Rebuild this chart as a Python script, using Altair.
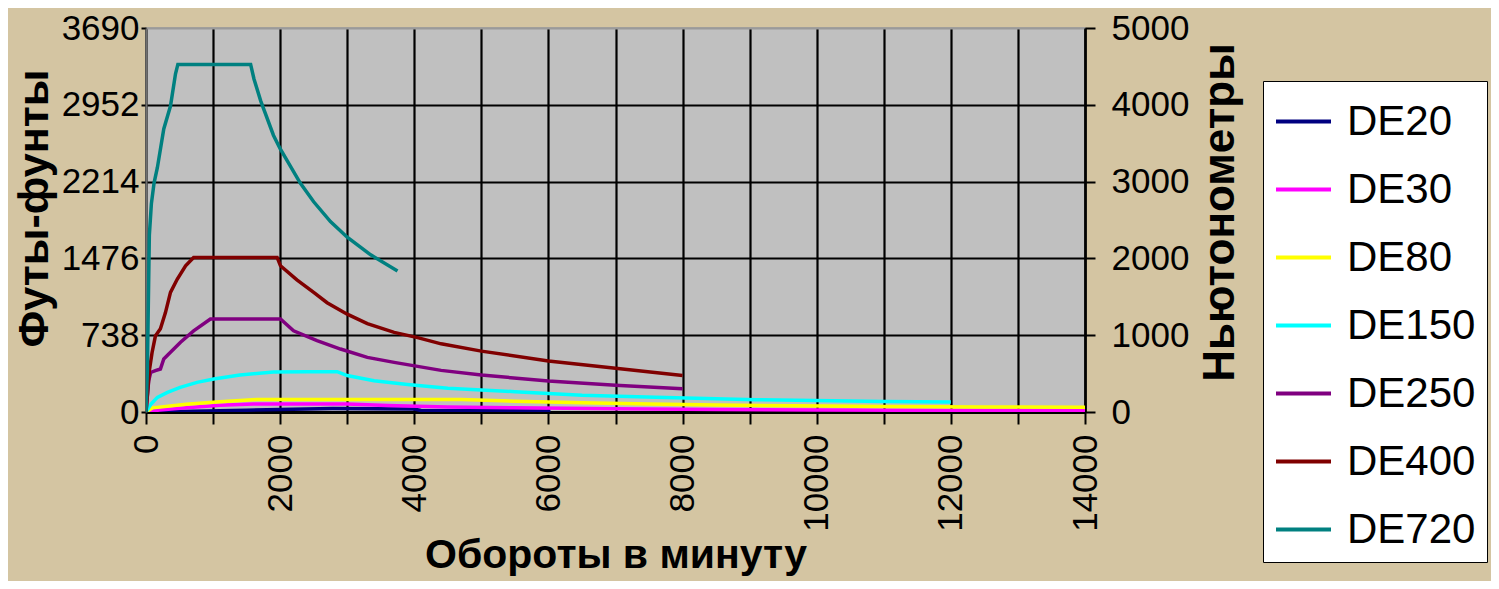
import altair as alt
import pandas as pd

series = ["DE20", "DE30", "DE80", "DE150", "DE250", "DE400", "DE720"]
colors = ["#000080", "#FF00FF", "#FFFF00", "#00FFFF", "#800080", "#800000", "#008080"]

de20_rpm = [0, 700, 1500, 2780, 3990, 4100, 6030]
de20_tq = [0, 8, 18, 33, 30, 14, 10]

de30_rpm = [0, 200, 600, 1100, 1600, 3000, 3600, 4500, 5500, 7000, 8500, 10000, 12000, 14000]
de30_tq = [0, 19, 41, 64, 77, 77, 62, 48, 40, 31, 25, 20, 15, 12]

de80_rpm = [0, 100, 600, 1100, 1650, 4700, 5500, 6500, 7500, 8500, 9650, 11000, 12500, 14000]
de80_tq = [0, 40, 74, 99, 120, 120, 104, 89, 77, 68, 60, 53, 48, 45]

de150_rpm = [0, 80, 170, 320, 510, 760, 1010, 1400, 1900, 2400, 2850, 3000, 3400, 3900,
             4500, 5500, 6500, 7600, 9100, 11000, 12000]
de150_tq = [0, 80, 141, 189, 237, 285, 317, 355, 385, 387, 387, 350, 300, 265,
            228, 195, 160, 141, 118, 101, 95]

de250_rpm = [0, 40, 70, 140, 215, 265, 365, 515, 710, 960, 2005, 2200, 2550, 2900,
             3300, 3700, 4400, 5000, 6000, 7000, 8000]
de250_tq = [0, 300, 380, 397, 413, 510, 573, 670, 780, 893, 893, 780, 685, 605,
            525, 477, 400, 355, 298, 258, 224]

de400_rpm = [0, 50, 90, 140, 215, 290, 365, 465, 590, 710, 1955, 2005, 2250, 2500,
             2700, 3000, 3300, 3700, 4050, 4400, 5000, 6000, 7000, 8000]
de400_tq = [0, 400, 570, 730, 800, 955, 1150, 1275, 1405, 1485, 1485, 1405, 1270, 1150,
            1050, 940, 850, 765, 715, 655, 585, 490, 420, 350]

de720_rpm = [0, 20, 50, 80, 120, 170, 265, 365, 440, 475, 1560, 1610, 1710, 1900,
             2000, 2300, 2500, 2750, 3000, 3350, 3750]
de720_tq = [0, 400, 1700, 2000, 2200, 2350, 2720, 2940, 3250, 3340, 3340, 3200, 2990, 2660,
            2530, 2200, 2020, 1830, 1680, 1510, 1355]

left_ticks = [0, 738, 1476, 2214, 2952, 3690]
right_ticks = [0, 1000, 2000, 3000, 4000, 5000]
x_ticks = list(range(0, 14001, 1000))

all_series = [
    ("DE20", de20_rpm, de20_tq),
    ("DE30", de30_rpm, de30_tq),
    ("DE80", de80_rpm, de80_tq),
    ("DE150", de150_rpm, de150_tq),
    ("DE250", de250_rpm, de250_tq),
    ("DE400", de400_rpm, de400_tq),
    ("DE720", de720_rpm, de720_tq),
]
rows = []
for name, xs, ys in all_series:
    for i, (a, b) in enumerate(zip(xs, ys)):
        rows.append({"series": name, "rpm": a, "ftlb": b, "idx": i})
df = pd.DataFrame(rows)

FONT = "Liberation Sans"

lines = alt.Chart(df).mark_line(strokeWidth=3.5, clip=True).encode(
    x=alt.X("rpm:Q", scale=alt.Scale(domain=[0, 14000], nice=False, zero=False),
            title="Обороты в минуту",
            axis=alt.Axis(values=x_ticks, format="d",
                          labelExpr="datum.value % 2000 == 0 ? datum.label : ''",
                          labelAngle=270, labelFontSize=35, labelFont=FONT, labelColor="black",
                          labelPadding=10, tickSize=12, tickWidth=2, tickColor="black",
                          domainColor="black", domainWidth=3,
                          grid=True, gridColor="black", gridWidth=2.2,
                          titleFontSize=41, titleFontWeight="bold", titleFont=FONT,
                          titleColor="black", titlePadding=4, labelFlush=False,
                          labelOverlap=False)),
    y=alt.Y("ftlb:Q", scale=alt.Scale(domain=[0, 3690], nice=False),
            title="Футы-фунты",
            axis=alt.Axis(values=left_ticks, format="d", orient="left",
                          labelFontSize=35, labelFont=FONT, labelColor="black",
                          labelPadding=2, tickSize=5, tickWidth=2, tickColor="black",
                          domainColor="#707070", domainWidth=2,
                          grid=True,
                          gridColor={"condition": {"test": "datum.value >= 3690", "value": "#9a9a9a"},
                                     "value": "black"},
                          gridWidth=2.2, labelFlush=False, labelOverlap=False,
                          titleFontSize=43, titleFontWeight="bold", titleFont=FONT,
                          titleColor="black", titleAngle=270, titleBaseline="middle",
                          titleX=-112, titleY=180)),
    color=alt.Color("series:N", scale=alt.Scale(domain=series, range=colors),
                    legend=alt.Legend(title=None, orient="none", legendX=1117, legendY=53,
                                      symbolType="stroke", symbolSize=3025, symbolStrokeWidth=4,
                                      labelFontSize=42, labelFont=FONT, labelColor="black",
                                      labelOffset=14, rowPadding=17, padding=11,
                                      fillColor="white", strokeColor="black")),
    order=alt.Order("idx:Q"),
)

right = alt.Chart(pd.DataFrame({"nm": right_ticks})).mark_point(opacity=0).encode(
    y=alt.Y("nm:Q", scale=alt.Scale(domain=[0, 5000], nice=False),
            title="Ньютонометры",
            axis=alt.Axis(values=right_ticks, format="d", orient="right",
                          labelFontSize=35, labelFont=FONT, labelColor="black",
                          labelPadding=16, tickSize=10, tickWidth=2, tickColor="black",
                          domainColor="black", domainWidth=2.5, grid=False,
                          labelFlush=False, labelOverlap=False,
                          titleFontSize=44, titleFontWeight="bold", titleFont=FONT,
                          titleColor="black", titleAngle=270, titleBaseline="middle",
                          titleX=135, titleY=184)),
)

chart = alt.layer(lines, right).resolve_scale(y="independent").properties(
    width=939, height=384,
    padding={"left": 138, "top": 20, "right": 406, "bottom": 169},
    autosize=alt.AutoSizeParams(type="none"),
    background="#D4C5A2",
).configure_view(fill="#C0C0C0", stroke="#9a9a9a", strokeWidth=1.5)

chart.save("out.html", embed_options={"renderer": "svg", "actions": False})
